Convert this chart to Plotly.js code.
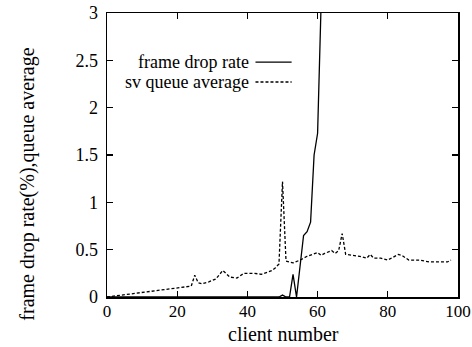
<!DOCTYPE html>
<html>
<head>
<meta charset="utf-8">
<script src="https://cdn.plot.ly/plotly-3.0.1.min.js"></script>
<style>html,body{margin:0;padding:0;background:#fff;}#chart{width:472px;height:347px;}</style>
</head>
<body>
<div id="chart"></div>
<script>
// Data
const dropClients = [0, 48, 49, 50, 51, 52, 53, 54, 56, 57, 58, 59, 60, 61];
const dropRate    = [0, 0, 0, 0.02, 0, 0, 0.24, 0, 0.65, 0.69, 0.79, 1.5, 1.73, 3.1];

const queueClients = [0, 5, 10, 15, 17, 20, 24, 25, 26, 27, 29, 31, 33, 35, 37, 39, 42, 44, 47, 48, 49, 50, 51, 53, 55, 57, 60, 61, 62, 64, 65, 66, 67, 68, 70, 72, 74, 75, 76, 78, 80, 81, 83, 84, 86, 89, 92, 95, 97, 98];
const queueAvg     = [0, 0.025, 0.05, 0.072, 0.085, 0.098, 0.115, 0.23, 0.15, 0.14, 0.16, 0.19, 0.28, 0.21, 0.20, 0.25, 0.25, 0.24, 0.28, 0.31, 0.35, 1.22, 0.38, 0.36, 0.39, 0.43, 0.47, 0.44, 0.46, 0.49, 0.46, 0.49, 0.67, 0.45, 0.44, 0.43, 0.41, 0.45, 0.41, 0.41, 0.39, 0.41, 0.45, 0.44, 0.39, 0.39, 0.37, 0.37, 0.37, 0.39];

const xTicks = [0, 20, 40, 60, 80, 100];
const yTicks = [0, 0.5, 1, 1.5, 2, 2.5, 3];
const yTickText = ['0', '0.5', '1', '1.5', '2', '2.5', '3'];
const seriesNames = ['frame drop rate', 'sv queue average'];
const xTitle = 'client number';
const yTitle = 'frame drop rate(%),queue average';

const FONT = 'Liberation Serif, Times New Roman, serif';

const traces = [
  {x: dropClients, y: dropRate, mode: 'lines', name: seriesNames[0],
   line: {color: '#000', width: 1.3}},
  {x: queueClients, y: queueAvg, mode: 'lines', name: seriesNames[1],
   line: {color: '#000', width: 1.3, dash: '3px,2px'}}
];

const legendTextX = 0.409;
const legendY = [0.827, 0.757];

const layout = {
  width: 472, height: 347,
  margin: {l: 107, r: 14, t: 13, b: 50},
  paper_bgcolor: '#fff', plot_bgcolor: '#fff',
  showlegend: false,
  font: {family: FONT, color: '#000', size: 17},
  xaxis: {
    range: [0, 100], tickvals: xTicks, ticktext: xTicks.map(String),
    ticks: 'inside', ticklen: 6, tickwidth: 1.2, tickcolor: '#000',
    showline: true, linecolor: '#000', linewidth: 1.5, mirror: 'ticks',
    showgrid: false, zeroline: false, ticklabelstandoff: -2,
    tickfont: {family: FONT, size: 17, color: '#000'}
  },
  yaxis: {
    range: [0, 3], tickvals: yTicks, ticktext: yTickText,
    ticks: 'inside', ticklen: 6, tickwidth: 1.2, tickcolor: '#000',
    showline: true, linecolor: '#000', linewidth: 1.5, mirror: 'ticks',
    showgrid: false, zeroline: false, ticklabelstandoff: 4,
    tickfont: {family: FONT, size: 18, color: '#000'}
  },
  annotations: [
    {text: xTitle, xref: 'paper', yref: 'paper', x: 0.503, y: -0.13,
     xanchor: 'center', yanchor: 'middle', showarrow: false,
     font: {family: FONT, size: 20, color: '#000'}},
    {text: yTitle, xref: 'paper', yref: 'paper', x: -0.226, y: 0.398,
     xanchor: 'center', yanchor: 'middle', showarrow: false, textangle: -90,
     font: {family: FONT, size: 20, color: '#000'}},
    {text: seriesNames[0], xref: 'paper', yref: 'paper', x: legendTextX, y: legendY[0],
     xanchor: 'right', yanchor: 'middle', showarrow: false,
     font: {family: FONT, size: 18, color: '#000'}},
    {text: seriesNames[1], xref: 'paper', yref: 'paper', x: legendTextX, y: legendY[1],
     xanchor: 'right', yanchor: 'middle', showarrow: false,
     font: {family: FONT, size: 18, color: '#000'}}
  ],
  shapes: [
    {type: 'line', xref: 'paper', yref: 'paper', x0: 0.423, x1: 0.526, y0: legendY[0], y1: legendY[0],
     line: {color: '#000', width: 1.3}},
    {type: 'line', xref: 'paper', yref: 'paper', x0: 0.423, x1: 0.526, y0: legendY[1], y1: legendY[1],
     line: {color: '#000', width: 1.3, dash: '3px,2px'}}
  ]
};

Plotly.newPlot('chart', traces, layout, {staticPlot: true, displayModeBar: false});
</script>
</body>
</html>
